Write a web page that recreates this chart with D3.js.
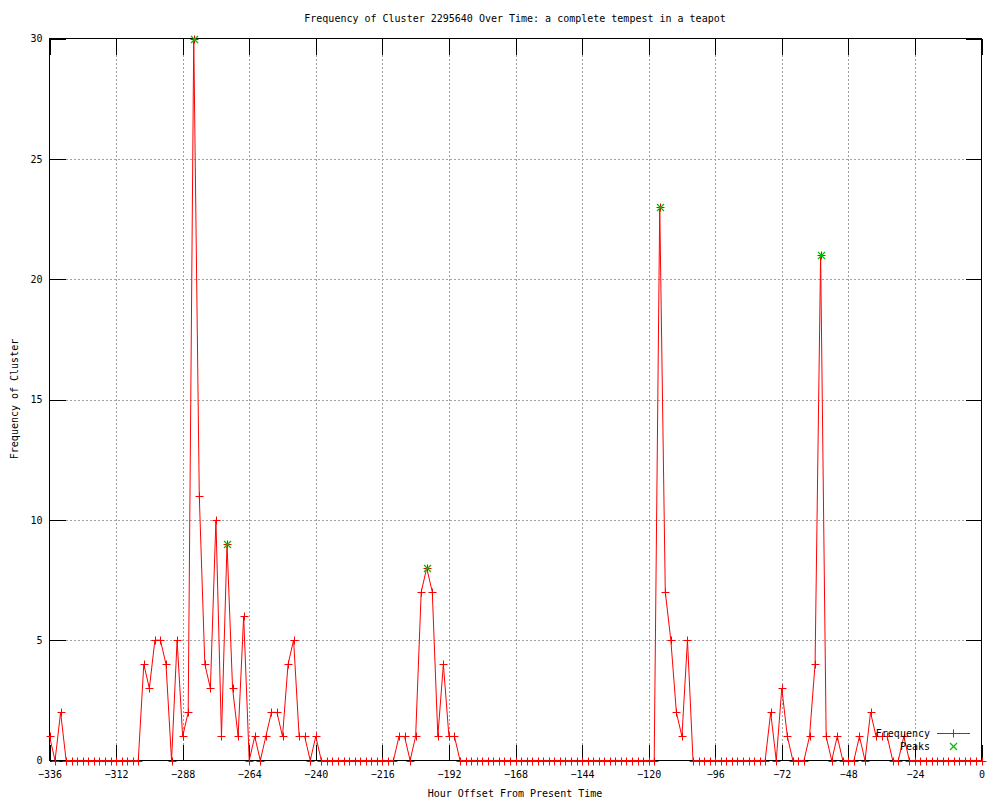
<!DOCTYPE html>
<html>
<head>
<meta charset="utf-8">
<script src="https://cdn.jsdelivr.net/npm/d3@7"></script>
<style>
  html, body { margin: 0; padding: 0; background: #fff; }
  svg text { font-family: "DejaVu Sans Mono", monospace; font-size: 10px; fill: #000; }
</style>
</head>
<body>
<svg id="chart" width="1000" height="800"></svg>
<script>
// ---- data ----
const titleText = "Frequency of Cluster 2295640 Over Time: a complete tempest in a teapot";
const xLabel = "Hour Offset From Present Time";
const yLabel = "Frequency of Cluster";
const hourStart = -336;
const hourStep = 2;
const frequencies = [
  1, 0, 2, 0, 0, 0, 0, 0, 0, 0, 0, 0, 0, 0, 0, 0, 0,
  4, 3, 5, 5, 4, 0, 5, 1, 2, 30, 11, 4, 3, 10, 1, 9, 3, 1, 6, 0, 1, 0, 1, 2, 2, 1, 4, 5, 1, 1, 0, 1,
  0, 0, 0, 0, 0, 0, 0, 0, 0, 0, 0, 0, 0, 0,
  1, 1, 0, 1, 7, 8, 7, 1, 4, 1, 1,
  0, 0, 0, 0, 0, 0, 0, 0, 0, 0, 0, 0, 0, 0, 0, 0, 0, 0, 0, 0, 0, 0, 0, 0, 0, 0, 0, 0, 0, 0, 0, 0, 0, 0, 0, 0,
  23, 7, 5, 2, 1, 5,
  0, 0, 0, 0, 0, 0, 0, 0, 0, 0, 0, 0, 0, 0,
  2, 0, 3, 1, 0, 0, 0, 1, 4, 21, 1, 0, 1, 0, 0, 0, 1, 0, 2, 1, 1, 1, 0, 0, 1,
  0, 0, 0, 0, 0, 0, 0, 0, 0, 0, 0, 0, 0, 0
];
const peakHours = [-284, -272, -200, -116, -58];
const peakValues = [30, 9, 8, 23, 21];
const xTicks = [-336, -312, -288, -264, -240, -216, -192, -168, -144, -120, -96, -72, -48, -24, 0];
const yTicks = [0, 5, 10, 15, 20, 25, 30];
const seriesNames = ["Frequency", "Peaks"];

// ---- layout ----
const L = 49.5, R = 981.5, T = 38.5, B = 760.5;
const x = d3.scaleLinear().domain([-336, 0]).range([L, R]);
const y = d3.scaleLinear().domain([0, 30]).range([B, T]);
const svg = d3.select("#chart");
const RED = "#ff0000", GREEN = "#00c000";

const freqData = frequencies.map((v, i) => ({ h: hourStart + i * hourStep, v }));
const peakData = peakHours.map((h, i) => ({ h, v: peakValues[i] }));

// grid
const grid = svg.append("g").style("stroke", "#a0a0a0").style("stroke-dasharray", "2,2").attr("shape-rendering", "crispEdges");
xTicks.filter(t => t > -336 && t < 0).forEach(t => {
  grid.append("line").attr("x1", Math.round(x(t)) + 0.5).attr("x2", Math.round(x(t)) + 0.5).attr("y1", T).attr("y2", B);
});
yTicks.filter(t => t > 0 && t < 30).forEach(t => {
  grid.append("line").attr("x1", L).attr("x2", R).attr("y1", Math.round(y(t)) + 0.5).attr("y2", Math.round(y(t)) + 0.5);
});

// axes via d3 axis (ticks inward, mirrored)
const tickLen = 16;
const axB = svg.append("g").attr("transform", `translate(0,${B})`)
  .call(d3.axisBottom(x).tickValues(xTicks).tickSize(-tickLen).tickPadding(10).tickFormat(d3.format("d")));
const axT = svg.append("g").attr("transform", `translate(0,${T})`)
  .call(d3.axisTop(x).tickValues(xTicks).tickSize(-tickLen).tickFormat(""));
const axL = svg.append("g").attr("transform", `translate(${L},0)`)
  .call(d3.axisLeft(y).tickValues(yTicks).tickSize(-tickLen).tickPadding(7).tickFormat(d3.format("d")));
const axR = svg.append("g").attr("transform", `translate(${R},0)`)
  .call(d3.axisRight(y).tickValues(yTicks).tickSize(-tickLen).tickFormat(""));
[axB, axT, axL, axR].forEach(a => {
  a.select(".domain").remove();
  a.selectAll("line").style("stroke", "#000").attr("shape-rendering", "crispEdges");
  a.selectAll("text").style("font-family", "\"DejaVu Sans Mono\", monospace").style("font-size", "10px").style("fill", "#000");
});

// border
svg.append("rect").attr("x", L).attr("y", T).attr("width", R - L).attr("height", B - T)
  .style("fill", "none").style("stroke", "#000").attr("shape-rendering", "crispEdges");

// frequency line
const line = d3.line().x(d => x(d.h)).y(d => y(d.v));
svg.append("path").datum(freqData).attr("d", line).style("fill", "none").style("stroke", RED).style("stroke-width", 1);

const cs = 3.5;
function plus(g, cx, cy, color) {
  g.append("rect").attr("x", cx - cs - 0.5).attr("y", cy - 0.5).attr("width", 2 * cs + 1).attr("height", 1).style("fill", color);
  g.append("rect").attr("x", cx - 0.5).attr("y", cy - cs - 0.5).attr("width", 1).attr("height", 2 * cs + 1).style("fill", color);
}
function cross(g, cx, cy, color) {
  g.append("line").attr("x1", cx - cs).attr("x2", cx + cs).attr("y1", cy - cs).attr("y2", cy + cs).style("stroke", color).style("stroke-width", 1.2);
  g.append("line").attr("x1", cx - cs).attr("x2", cx + cs).attr("y1", cy + cs).attr("y2", cy - cs).style("stroke", color).style("stroke-width", 1.2);
}
const pts = svg.append("g");
freqData.forEach(d => plus(pts, Math.round(x(d.h)) + 0.5, Math.round(y(d.v)) + 0.5, RED));
const pk = svg.append("g");
peakData.forEach(d => cross(pk, Math.round(x(d.h)) + 0.5, Math.round(y(d.v)) + 0.5, GREEN));

// legend
const lg = svg.append("g");
lg.append("text").attr("x", 930).attr("y", 733).attr("text-anchor", "end").attr("dy", "0.35em").text(seriesNames[0]);
lg.append("rect").attr("x", 937).attr("y", 733).attr("width", 33).attr("height", 1).style("fill", RED);
plus(lg, 953.5, 733.5, RED);
lg.append("text").attr("x", 930).attr("y", 746).attr("text-anchor", "end").attr("dy", "0.35em").text(seriesNames[1]);
cross(lg, 953.5, 746.5, GREEN);

// titles
svg.append("text").attr("x", 515).attr("y", 18).attr("text-anchor", "middle").attr("dy", "0.35em").text(titleText);
svg.append("text").attr("x", 515).attr("y", 793).attr("text-anchor", "middle").attr("dy", "0.35em").text(xLabel);
svg.append("text").attr("transform", "translate(14,399) rotate(-90)").attr("text-anchor", "middle").attr("dy", "0.35em").text(yLabel);
</script>
</body>
</html>
